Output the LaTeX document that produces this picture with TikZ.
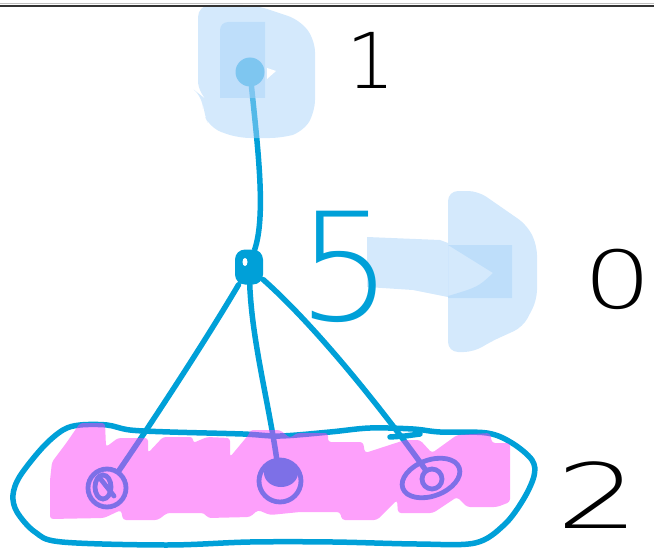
\documentclass[tikz,border=0pt]{standalone}
\usepackage{fontspec}
\usepackage{tikz}

\IfFontExistsTF{DejaVuSans-ExtraLight.ttf}
  {\newfontfamily\hand{DejaVuSans-ExtraLight.ttf}}
  {\newfontfamily\hand{DejaVu Sans}}

\definecolor{pen}{RGB}{0,160,216}
\definecolor{hilite}{RGB}{169,211,249}
\definecolor{hlpink}{RGB}{251,65,247}

\begin{document}
\begin{tikzpicture}[x=1pt, y=-1pt,
                    wire/.style={draw=pen, line width=5.5pt, line cap=round, line join=round},
                    ring/.style={draw=pen, line width=4.8pt},
                    blob/.style={fill=pen, inner sep=0pt},
                    glow/.style={fill=hilite, fill opacity=0.5},
                    smear/.style={fill=hlpink, fill opacity=0.5, rounded corners=3pt},
                    digit/.style={inner sep=0pt, font=\hand\fontsize{#1}{#1}\selectfont}]
  \useasboundingbox (0,0) rectangle (654,551);

  % the group round the three lower nodes
  \draw[ring, line width=5.5pt] plot[smooth cycle, tension=0.55] coordinates {
    (63,430) (80,425) (107,425) (130,430) (170,432) (243,434) (280,436)
    (330,432) (370,428) (413,429) (440,432) (487,433) (512,443) (532,460)
    (534,476) (523,500) (504,525) (475,543) (417,544) (333,542) (250,542)
    (167,545) (62,542) (35,532) (17,512) (13,495) (20,476) (43,447)};
  \draw[ring, line width=5.5pt, line cap=round] (390,437) -- (405,436) -- (420,434);

  \node[blob, circle, minimum size=29pt] (t) at (250,72) {};
  \node[blob, rounded corners=10pt, minimum width=28pt, minimum height=35pt] (h) at (249,267) {};
  \fill[white] (245,262) ellipse (2.5 and 4);

  \node[ring, circle, minimum size=38pt] (p1) at (107,488) {};
  \node[ring, circle, minimum size=42pt] (p2) at (280,481) {};
  \node[ring, circle, minimum size=20pt] (p3) at (432,479) {};
  \draw[ring] (103,487) ellipse (8 and 12);
  \draw[ring, line cap=round] (99,477) -- (114,496);
  \fill[pen] (281,473) ellipse (17 and 14);
  \draw[ring, rotate around={20:(431,478)}] (431,478) ellipse (30 and 18);

  \draw[wire] (t) .. controls (258,150) and (266,215) .. (h);
  \draw[wire] (h) .. controls (200,350) and (140,440) .. (p1);
  \draw[wire] (h) .. controls (252,340) and (268,400) .. (p2);
  \draw[wire] (h) .. controls (320,330) and (390,420) .. (p3);

  % highlighter strokes
  \fill[glow, rounded corners=12pt] (198,5) -- (255,5) -- (300,20) -- (315,40) -- (315,112)
    -- (303,132) -- (282,138) -- (238,138) -- (210,128) -- (203,112) -- (203,97) -- (198,93) -- cycle;
  \fill[glow] (220,98) [rounded corners=8pt] -- (220,22) [sharp corners] -- (265,22) -- (265,98) -- cycle;
  \fill[white] (267,68) -- (276,71) -- (267,79) -- cycle;

  \fill[glow, rounded corners=10pt] (448,191) -- (478,191) -- (527,225) -- (537,245) -- (537,300)
    -- (523,327) -- (490,342) -- (474,352) -- (448,352) -- cycle;
  \fill[glow] (367,237) -- (440,240) -- (448,243) -- (448,297) -- (413,290) -- (367,287) -- cycle;
  \fill[glow, even odd rule] (448,245) rectangle (512,298)
    (448,245) -- (493,273) .. controls (478,287) .. (448,296) -- cycle;

  \fill[smear] (52,462) -- (67,442) -- (80,423) -- (105,423) -- (106,447) -- (118,438) -- (148,438)
    -- (148,453) -- (163,437) -- (193,437) -- (193,443) -- (207,437) -- (230,438) -- (230,457)
    -- (250,433) -- (250,430) -- (280,430) -- (290,438) -- (297,433) -- (328,433) -- (328,442)
    -- (363,442) -- (365,453) -- (405,440) -- (420,440) -- (432,453) -- (457,435) -- (490,433)
    -- (492,443) -- (510,443) -- (510,502) -- (497,507) -- (467,507) -- (457,497) -- (433,513)
    -- (398,513) -- (397,500) -- (377,520) -- (342,520) -- (340,512) -- (300,512) -- (270,515)
    -- (258,510) -- (250,517) -- (208,518) -- (204,513) -- (167,513) -- (158,520) -- (123,520)
    -- (121,510) -- (104,518) -- (50,519) -- (50,480) -- cycle;

  \node[digit=77] (n1) at (371,60) {1};
  \node[digit=150, text=pen] (n5) at (345,267) {5};
  \node[digit=80] (n0) at (618,279) {\scalebox{1.35}[1]{0}};
  \node[digit=90] (n2) at (598,495) {\scalebox{1.45}[1]{2}};

  \draw[line width=1pt, black!25] (0,3.8) -- (654,3.8);
  \draw[line width=2.4pt, black!80] (0,5.8) -- (654,5.8);
\end{tikzpicture}
\end{document}
